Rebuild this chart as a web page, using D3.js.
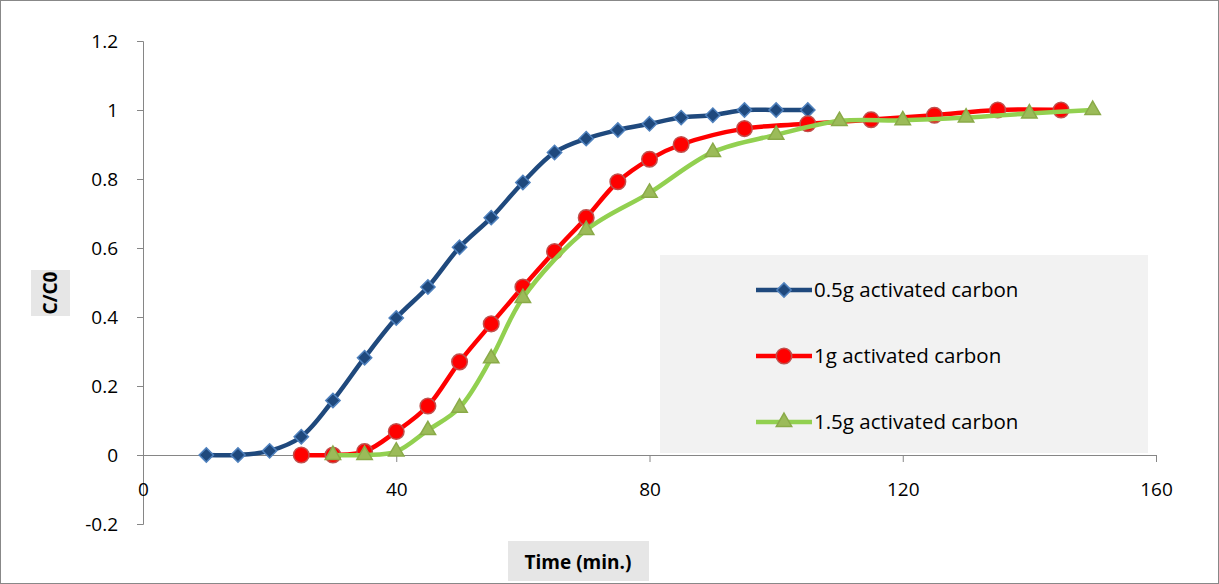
<!DOCTYPE html>
<html><head><meta charset="utf-8">
<script src="https://cdn.jsdelivr.net/npm/d3@7"></script>
<style>body{margin:0;background:#fff}text{font-family:"Open Sans",sans-serif}</style>
</head><body><div id="chart"></div>
<script>
const blueX = [10,15,20,25,30,35,40,45,50,55,60,65,70,75,80,85,90,95,100,105];
const blueY = [0,0,0.012,0.053,0.158,0.282,0.397,0.487,0.602,0.688,0.79,0.877,0.917,0.942,0.96,0.978,0.985,1,1,1];
const redX = [25,30,35,40,45,50,55,60,65,70,75,80,85,95,105,115,125,135,145];
const redY = [0,0,0.01,0.068,0.142,0.27,0.38,0.487,0.59,0.688,0.792,0.857,0.9,0.946,0.96,0.972,0.985,1,1];
const greenX = [30,35,40,45,50,55,60,70,80,90,100,110,120,130,140,150];
const greenY = [0,0,0.01,0.072,0.137,0.28,0.455,0.652,0.76,0.878,0.928,0.968,0.97,0.978,0.99,1];
const xTicks = [0,40,80,120,160];
const yTicks = [-0.2,0,0.2,0.4,0.6,0.8,1,1.2];
const names = ["0.5g activated carbon","1g activated carbon","1.5g activated carbon"];

const w = 1219, h = 584;
const svg = d3.select("#chart").append("svg").attr("width", w).attr("height", h);
svg.append("rect").attr("x",0.5).attr("y",0.5).attr("width",w-1).attr("height",h-1)
  .attr("fill","#fff").attr("stroke","#888");

const x = d3.scaleLinear().domain([0,160]).range([143,1156]);
const y = d3.scaleLinear().domain([-0.2,1.2]).range([524,41]);

// y axis
svg.append("g").attr("transform","translate(143,0)")
  .call(d3.axisLeft(y).tickValues(yTicks).tickSize(6).tickFormat(d => String(+d.toFixed(1))))
  .call(g => g.select(".domain").attr("stroke","#868686"))
  .call(g => g.selectAll(".tick line").attr("stroke","#868686"))
  .call(g => g.selectAll(".tick text").attr("font-size",19).attr("fill","#000").attr("x",-25).attr("font-family","Open Sans"));
// x axis at y=0
svg.append("g").attr("transform",`translate(0,${y(0)})`)
  .call(d3.axisBottom(x).tickValues(xTicks).tickSize(7))
  .call(g => g.select(".domain").attr("stroke","#868686"))
  .call(g => g.selectAll(".tick line").attr("stroke","#868686"))
  .call(g => g.selectAll(".tick text").attr("font-size",19).attr("fill","#000").attr("y",28).attr("font-family","Open Sans"));

// legend box
svg.append("rect").attr("x",660).attr("y",255).attr("width",488).attr("height",198).attr("fill","#f2f2f2");

const line = d3.line().x(d=>x(d[0])).y(d=>y(d[1])).curve(d3.curveCatmullRom.alpha(0.5));
const series = [
  {xs:blueX, ys:blueY, c:"#1f497d", m:"diamond", mf:"#1f497d", ms:"#4f81bd"},
  {xs:redX, ys:redY, c:"#ff0000", m:"circle", mf:"#ff0000", ms:"#c0504d"},
  {xs:greenX, ys:greenY, c:"#92d050", m:"triangle", mf:"#9bbb59", ms:"#8aaa48"}
];
const sym = {diamond:d3.symbol().type(d3.symbolDiamond2).size(130),
  circle:d3.symbol().type(d3.symbolCircle).size(190),
  triangle:d3.symbol().type(d3.symbolTriangle2).size(170)};

series.forEach((s,i) => {
  const pts = s.xs.map((v,j)=>[v,s.ys[j]]);
  svg.append("path").datum(pts).attr("d",line).attr("fill","none")
    .attr("stroke",s.c).attr("stroke-width",4.5);
  svg.selectAll(null).data(pts).enter().append("path")
    .attr("d",sym[s.m]).attr("transform",d=>`translate(${x(d[0])},${y(d[1])})`)
    .attr("fill",s.mf).attr("stroke",s.ms).attr("stroke-width",1.5);
  const ly = 290 + i*66;
  svg.append("line").attr("x1",756).attr("x2",812).attr("y1",ly).attr("y2",ly)
    .attr("stroke",s.c).attr("stroke-width",4.5);
  svg.append("path").attr("d",sym[s.m]).attr("transform",`translate(784,${ly})`)
    .attr("fill",s.mf).attr("stroke",s.ms).attr("stroke-width",1.5);
  svg.append("text").attr("x",814).attr("y",ly+7).attr("font-size",20.5).text(names[i]);
});

// axis titles
svg.append("rect").attr("x",31).attr("y",270).attr("width",39).attr("height",46).attr("fill","#e6e6e6");
svg.append("text").attr("transform","translate(57,293) rotate(-90)").attr("text-anchor","middle")
  .attr("font-size",19).attr("font-weight","bold").text("C/C0");
svg.append("rect").attr("x",508).attr("y",541).attr("width",141).attr("height",40).attr("fill","#e6e6e6");
svg.append("text").attr("x",578).attr("y",569).attr("text-anchor","middle")
  .attr("font-size",19).attr("font-weight","bold").text("Time (min.)");
</script></body></html>
